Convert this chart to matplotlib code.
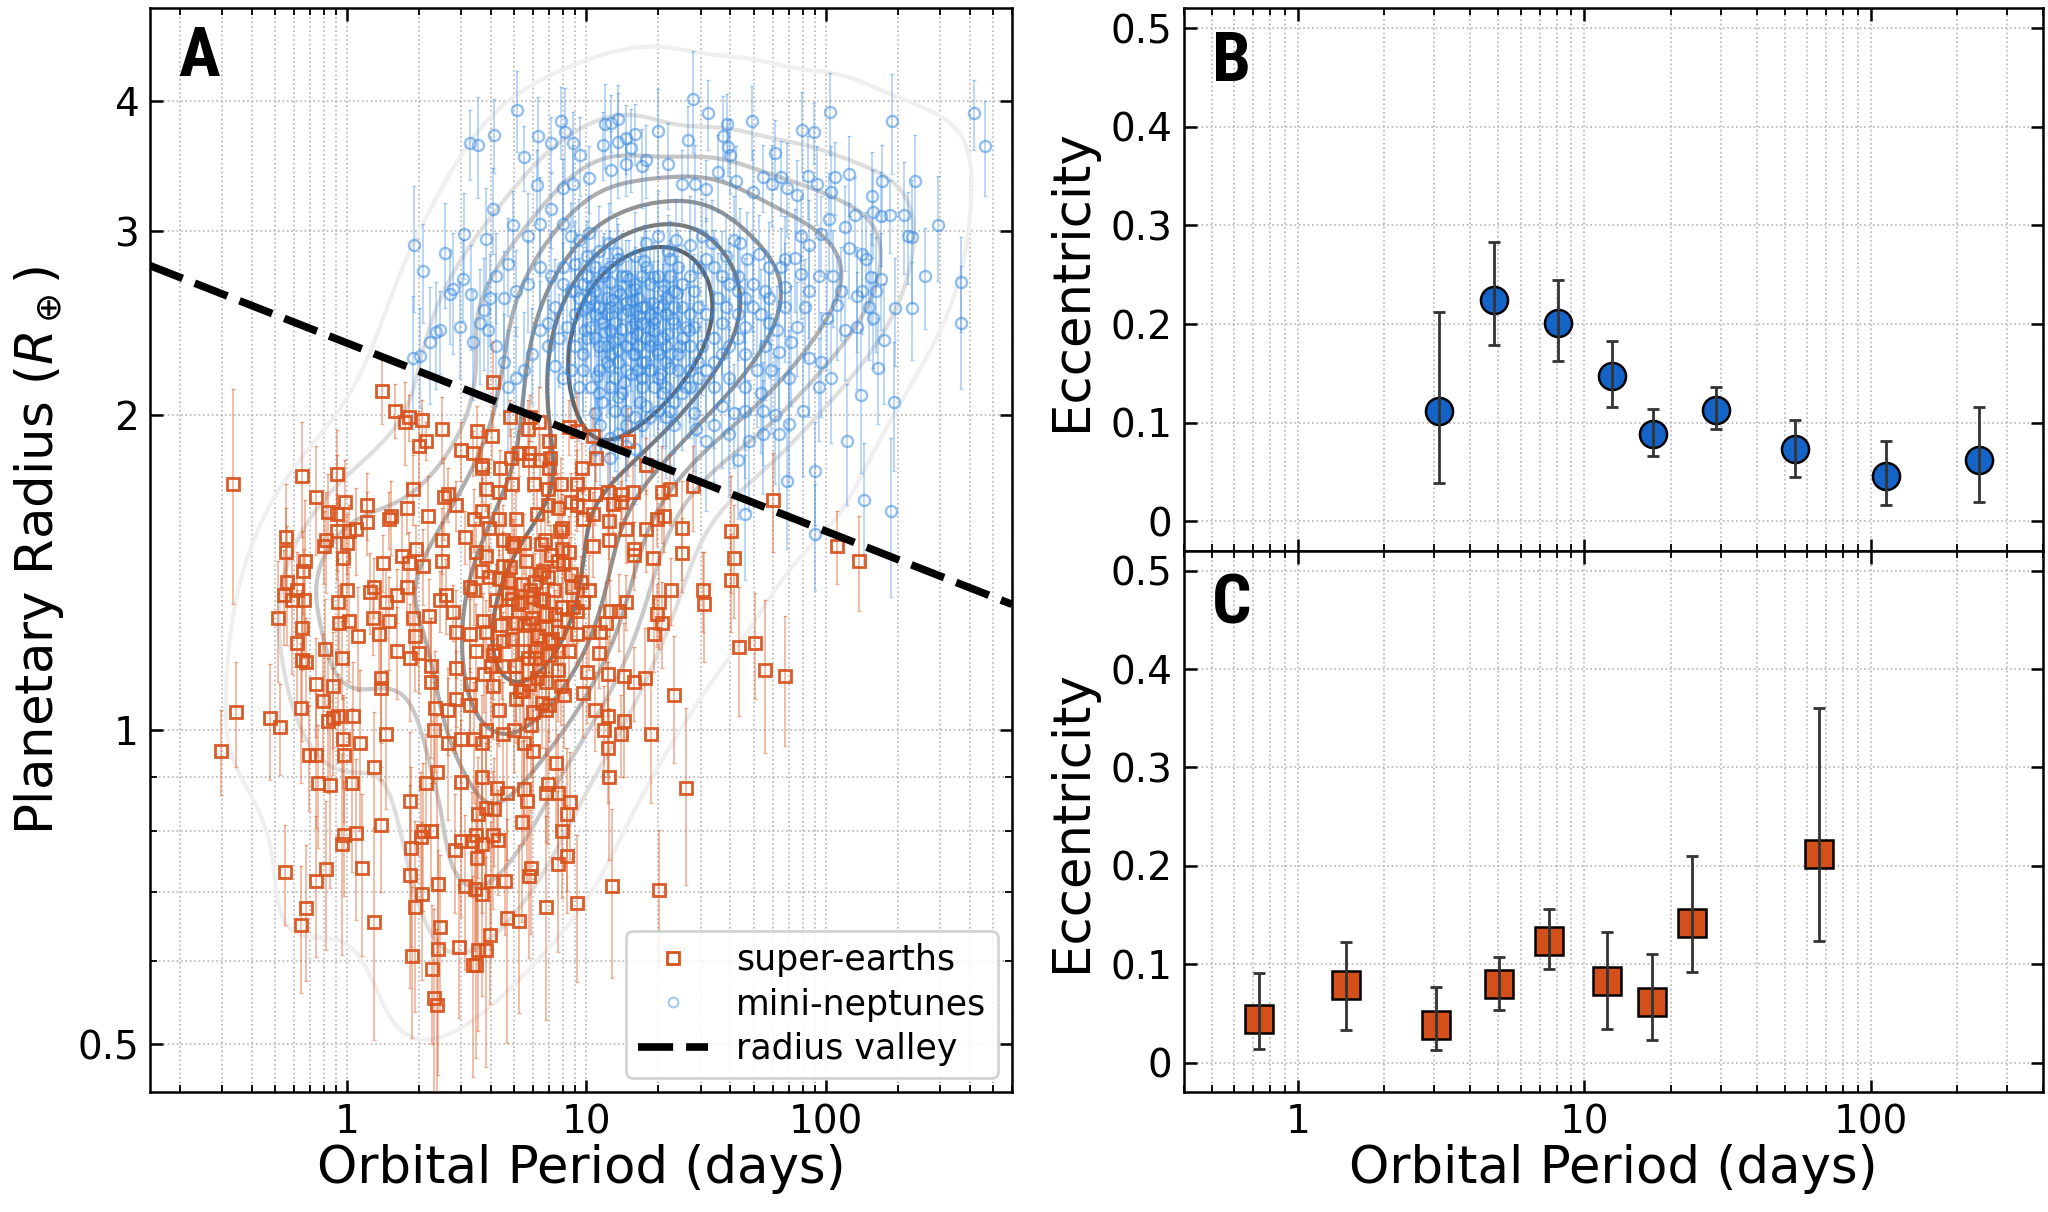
import numpy as np
import matplotlib
matplotlib.use("Agg")
import matplotlib.pyplot as plt
from matplotlib.lines import Line2D
from matplotlib.ticker import NullFormatter, LogLocator
import seaborn as sns

plt.rcParams['font.family'] = ['DejaVu Sans']
plt.rcParams['mathtext.fontset'] = 'dejavusans'

# ---------------- data ----------------
# super-earths: (orbital period [d], radius [R_earth], radius uncertainty)
super_earths = [
(1.40,2.11,.15),(1.58,2.02,.12),(1.81,1.99,.10),(1.74,1.97,.18),(2.06,1.98,.09),(2.50,1.94,.14),(3.49,1.93,.11),(4.07,2.15,.20),(4.78,1.99,.08),(5.69,1.94,.13),
(5.80,1.99,.10),(6.35,1.97,.16),(7.0,1.89,.09),(8.43,1.95,.12),(4.02,1.91,.10),(2.0,1.87,.15),(2.13,1.89,.08),(3.0,1.85,.12),(3.35,1.84,.09),(3.65,1.79,.14),
(3.68,1.78,.10),(4.36,1.78,.07),(4.84,1.82,.12),(5.25,1.84,.09),(5.73,1.84,.15),(5.73,1.81,.08),(6.42,1.81,.11),(7.06,1.82,.13),(6.96,1.78,.08),(9.15,1.93,.17),
(9.6,1.78,.10),(10.7,1.91,.12),(11.0,1.82,.09),(14.9,1.89,.14),(17.8,1.79,.11),(27.8,1.71,.16),(0.645,1.75,.22),(0.906,1.755,.18),(0.333,1.72,.40),(1.88,1.70,.13),
(2.65,1.68,.10),(2.53,1.67,.15),(2.86,1.64,.09),(3.68,1.62,.12),(3.82,1.70,.08),(4.32,1.69,.11),(4.88,1.72,.14),(6.05,1.72,.09),(6.88,1.70,.12),(7.86,1.72,.10),
(9.15,1.72,.13),(9.7,1.68,.08),(10.9,1.68,.11),(12.3,1.69,.15),(14.1,1.68,.09),(15.7,1.69,.12),(20.6,1.69,.18),(22.3,1.70,.13),(12.9,1.645,.10),(14.0,1.65,.08),
(8.6,1.65,.11),(9.15,1.64,.09),(7.62,1.63,.13),(6.88,1.64,.07),(0.74,1.67,.20),(0.98,1.65,.16),(1.21,1.64,.12),(0.835,1.615,.14),(0.906,1.61,.22),(1.50,1.59,.10),
(1.53,1.60,.13),(1.78,1.63,.09),(2.17,1.60,.15),(3.39,1.59,.11),(3.90,1.56,.08),(4.32,1.59,.12),(5.08,1.59,.10),(6.22,1.61,.09),(7.94,1.56,.12),(9.7,1.59,.10),
(10.7,1.61,.08),(12.4,1.585,.13),(14.6,1.555,.11),(17.8,1.555,.14),(19.8,1.59,.09),(21.0,1.60,.12),(25.2,1.56,.17),(40.2,1.55,.20),(1.21,1.58,.11),(1.09,1.555,.15),
(1.02,1.55,.09),(0.91,1.55,.13),(0.82,1.52,.17),(0.80,1.50,.12),(1.0,1.51,.10),(0.556,1.53,.19),(0.556,1.48,.15),(0.668,1.45,.21),(0.96,1.46,.12),(1.41,1.445,.09),
(1.70,1.465,.14),(1.81,1.445,.10),(2.08,1.435,.12),(1.95,1.49,.08),(2.50,1.52,.11),(2.50,1.45,.13),(3.12,1.53,.09),(3.46,1.48,.10),(3.79,1.465,.07),(4.5,1.52,.12),
(4.88,1.51,.08),(5.5,1.51,.10),(6.47,1.505,.09),(7.78,1.55,.11),(7.94,1.49,.08),(8.43,1.48,.12),(10.7,1.50,.10),(12.4,1.52,.13),(15.8,1.49,.09),(15.8,1.47,.11),
(19.0,1.46,.14),(25.0,1.475,.12),(41.4,1.46,.18),(40.2,1.39,.15),(30.6,1.36,.12),(30.9,1.32,.16),(22.6,1.36,.10),(20.2,1.325,.13),(19.8,1.29,.09),(20.6,1.265,.12),
(19.2,1.235,.10),(14.6,1.325,.08),(13.7,1.30,.11),(12.6,1.30,.09),(12.1,1.265,.12),(11.4,1.24,.07),(10.3,1.24,.10),(9.15,1.235,.08),(8.43,1.19,.11),(11.3,1.185,.09),
(10.1,1.135,.12),(12.3,1.13,.10),(14.3,1.125,.14),(15.8,1.11,.09),(17.6,1.12,.13),(23.2,1.08,.15),(43.5,1.20,.17),(50.7,1.21,.14),(55.6,1.14,.19),(67.5,1.125,.16),
(9.7,1.085,.10),(8.1,1.08,.12),(10.9,1.045,.09),(12.3,1.03,.13),(11.8,1.0,.10),(14.4,1.02,.12),(14.0,0.99,.09),(18.6,0.99,.14),(12.3,0.96,.11),(7.47,0.93,.13),
(12.4,0.90,.15),(26.0,0.88,.17),(0.563,1.385,.18),(0.546,1.345,.14),(0.59,1.33,.20),(0.616,1.36,.12),(0.663,1.33,.16),(0.655,1.42,.13),(0.515,1.28,.17),(0.65,1.25,.11),
(0.62,1.21,.15),(0.645,1.165,.19),(0.676,1.16,.12),(0.81,1.195,.14),(0.95,1.17,.10),(0.917,1.325,.13),(1.0,1.36,.09),(1.02,1.27,.16),(0.925,1.265,.11),(1.11,1.23,.14),
(1.28,1.28,.10),(1.36,1.235,.13),(1.30,1.37,.09),(1.25,1.355,.12),(1.46,1.325,.10),(1.62,1.345,.08),(1.50,1.27,.13),(1.88,1.28,.09),(2.19,1.285,.11),(1.78,1.37,.10),
(1.92,1.23,.14),(1.62,1.19,.12),(1.83,1.17,.15),(2.0,1.185,.10),(2.24,1.15,.13),(2.24,1.11,.17),(2.45,1.33,.09),(2.6,1.345,.11),(2.76,1.295,.08),(2.86,1.24,.12),
(3.25,1.235,.10),(3.46,1.19,.13),(3.82,1.24,.09),(4.07,1.18,.11),(4.0,1.15,.14),(4.47,1.215,.08),(4.88,1.335,.10),(5.33,1.325,.07),(6.1,1.385,.09),(6.42,1.335,.11),
(6.75,1.29,.08),(5.08,1.265,.10),(5.73,1.265,.09),(6.22,1.23,.12),(7.0,1.215,.08),(7.62,1.24,.10),(5.5,1.19,.11),(6.1,1.17,.09),(7.0,1.18,.13),(3.39,1.36,.10),
(3.68,1.42,.08),(3.25,1.37,.12),(4.32,1.395,.09),(4.69,1.385,.07),(4.5,1.435,.11),(6.6,1.42,.09),(7.62,1.45,.10),(8.6,1.41,.12),(9.5,1.385,.08),(10.3,1.36,.11),
(9.7,1.325,.09),(8.8,1.31,.10),(2.86,1.145,.14),(3.25,1.105,.11),(3.75,1.13,.09),(4.07,1.10,.12),(4.42,1.15,.08),(5.08,1.12,.10),(5.73,1.105,.09),(6.35,1.14,.11),
(6.75,1.11,.08),(7.62,1.14,.12),(5.08,1.07,.10),(5.42,1.09,.09),(5.97,1.04,.13),(6.75,1.045,.10),(7.0,1.055,.08),(5.85,1.01,.11),(5.5,0.97,.14),(5.97,0.955,.10),
(4.98,1.0,.09),(4.5,0.99,.12),(3.82,1.0,.10),(3.39,0.98,.13),(3.0,0.98,.09),(2.65,0.97,.15),(2.31,1.0,.11),(2.34,1.05,.14),(2.65,1.045,.10),(2.86,1.07,.12),
(3.25,1.055,.09),(3.65,0.97,.11),(4.32,1.045,.08),(1.45,0.99,.15),(1.30,0.92,.12),(1.13,0.97,.17),(0.975,0.945,.13),(0.96,0.98,.10),(1.05,0.89,.16),(0.755,0.89,.12),
(0.852,0.885,.18),(0.69,0.945,.11),(0.74,0.945,.14),(0.87,1.025,.12),(0.835,1.02,.15),(0.917,1.03,.10),(1.06,1.03,.13),(0.795,1.065,.17),(0.74,1.105,.12),(0.875,1.10,.14),
(0.64,1.05,.16),(0.475,1.025,.13),(0.525,1.005,.10),(0.345,1.04,.12),(0.297,0.955,.09),(1.39,1.12,.15),(1.38,1.095,.20),(2.37,0.91,.12),(2.13,0.89,.10),(1.83,0.854,.14),
(1.39,0.81,.11),(2.08,0.80,.13),(2.24,0.80,.09),(1.85,0.77,.15),(2.04,0.79,.12),(1.09,0.797,.14),(0.975,0.793,.10),(0.95,0.778,.17),(0.82,0.735,.12),(0.74,0.716,.11),
(0.55,0.73,.08),(1.15,0.737,.13),(0.676,0.675,.10),(0.64,0.65,.09),(1.30,0.655,.15),(1.83,0.726,.16),(2.06,0.696,.12),(2.39,0.712,.10),(1.92,0.677,.14),(2.44,0.648,.11),
(1.87,0.607,.10),(2.26,0.59,.09),(2.31,0.553,.12),(2.38,0.545,.10),(2.40,0.617,.15),(2.93,0.62,.09),(3.36,0.595,.13),(3.45,0.595,.11),(3.52,0.615,.10),(3.82,0.615,.14),
(3.95,0.636,.09),(4.68,0.661,.16),(5.25,0.656,.12),(6.75,0.677,.15),(9.15,0.683,.11),(12.8,0.709,.13),(20.2,0.702,.10),(3.12,0.709,.12),(3.42,0.704,.09),(3.68,0.696,.14),
(4.0,0.716,.10),(4.55,0.716,.08),(5.73,0.724,.12),(5.85,0.738,.10),(7.62,0.743,.13),(8.27,0.757,.09),(7.94,0.80,.11),(8.27,0.831,.13),(8.54,0.852,.10),(7.62,0.87,.12),
(6.75,0.87,.09),(6.88,0.888,.11),(5.62,0.854,.14),(5.5,0.878,.10),(4.68,0.87,.12),(4.23,0.88,.09),(3.82,0.842,.13),(4.12,0.84,.10),(3.52,0.831,.11),(5.4,0.815,.16),
(3.46,0.793,.10),(4.07,0.793,.12),(4.28,0.785,.09),(3.68,0.778,.11),(3.5,0.753,.13),(2.82,0.767,.10),(3.0,0.782,.12),(3.32,0.782,.09),(3.65,0.90,.11),(2.99,0.892,.13),
(60.0,1.66,.18),(138,1.45,.15),(111,1.50,.12),
(5.2,1.32,.08),(5.9,1.28,.09),(6.4,1.41,.10),(7.3,1.36,.08),(5.6,1.45,.09),(4.9,1.22,.07),(6.8,1.25,.10),(7.9,1.31,.09),(6.1,1.19,.08),(5.4,1.38,.11),
(4.6,1.30,.09),(7.1,1.47,.10),(6.6,1.33,.08),(5.8,1.36,.07),(8.3,1.27,.09),(4.4,1.26,.10),(6.3,1.23,.08),(7.6,1.19,.11),(5.1,1.15,.09),(6.9,1.40,.08),
(5.5,1.26,.10),(6.0,1.34,.09),(7.4,1.29,.07),(4.8,1.43,.10),(8.7,1.37,.09),(5.3,1.09,.08),(6.2,1.12,.10),(7.8,1.10,.09),(4.2,1.33,.11),(3.9,1.40,.10),
(5.0,1.50,.09),(6.7,1.52,.10),(8.0,1.44,.11),(9.1,1.30,.09),(4.1,1.19,.10),(3.7,1.27,.08),(5.7,1.17,.09),(6.5,1.06,.10),(7.2,1.22,.08),(4.7,1.35,.09),
]

# mini-neptunes: (orbital period [d], radius [R_earth], radius uncertainty)
mini_neptunes = [
(5.13,3.92,.35),(4.11,3.71,.30),(3.25,3.64,.28),(3.53,3.63,.40),(5.48,3.53,.25),(6.25,3.70,.33),(7.08,3.64,.22),(7.85,3.82,.30),(8.16,3.73,.38),(8.8,3.64,.26),
(9.4,3.55,.31),(11.7,3.63,.27),(12.0,3.80,.35),(12.7,3.81,.24),(13.5,3.84,.30),(13.5,3.65,.42),(14.7,3.68,.28),(15.3,3.60,.33),(15.9,3.72,.25),(17.1,3.46,.30),
(20.0,3.74,.36),(26.6,3.67,.28),(28.0,4.01,.45),(32.2,3.89,.30),(38.6,3.80,.26),(37.2,3.70,.34),(39.2,3.61,.22),(40,3.55,.29),(49.4,3.82,.31),(61.5,3.56,.27),
(79.3,3.75,.33),(89.3,3.73,.25),(104,3.90,.35),(189,3.82,.42),(418,3.89,.30),(462,3.62,.38),(6.2,3.32,.27),(8.0,3.30,.22),(8.75,3.33,.30),(10.3,3.37,.25),
(12.7,3.43,.31),(14.7,3.48,.24),(17.8,3.51,.28),(22,3.48,.33),(25.1,3.33,.26),(28.4,3.33,.30),(31.6,3.29,.22),(35.4,3.42,.29),(42.3,3.35,.27),(49.9,3.27,.32),
(54.9,3.38,.25),(59.9,3.33,.30),(65.2,3.38,.28),(69,3.30,.34),(75.9,3.25,.26),(84.1,3.39,.31),(91.8,3.33,.29),(105,3.27,.35),(109,3.38,.27),(125,3.40,.30),
(156,3.24,.33),(172,3.35,.28),(236,3.35,.36),(158,3.13,.30),(133,3.11,.27),(170,3.10,.32),(186,3.11,.25),(212,3.11,.38),(220,2.97,.30),(230,2.96,.40),
(296,3.04,.35),(259,2.72,.30),(369,2.68,.28),(369,2.45,.33),(194,2.53,.30),(230,2.53,.27),(175,2.36,.31),(165,2.22,.26),(193,2.06,.29),(140,2.09,.33),
(123,1.89,.25),(145,1.66,.22),(188,1.62,.28),(90,1.77,.20),(69,1.73,.24),(90,1.54,.18),(46.2,1.61,.22),(4.08,3.15,.30),(3.79,2.95,.35),(3.09,2.98,.28),
(2.56,2.86,.33),(1.91,2.91,.40),(2.07,2.75,.30),(2.7,2.61,.27),(2.77,2.64,.35),(3.05,2.70,.24),(3.29,2.61,.30),(2.95,2.43,.26),(2.36,2.40,.28),(2.45,2.41,.22),
(2.23,2.35,.30),(1.89,2.27,.33),(2.02,2.28,.25),(3.35,2.35,.28),(3.74,2.52,.31),(4.19,2.72,.27),(4.7,2.79,.30),(4.93,3.04,.24),(5.69,2.97,.29),(6.37,3.05,.33),
(7.14,3.15,.26),(7.95,3.05,.30),(8.63,2.97,.22),(9.32,2.94,.28),(10.3,2.99,.25),(11.3,2.87,.30),(12.4,2.92,.27),(13.6,2.82,.23),(15.9,2.84,.29),(17.8,2.92,.26),
(20.0,2.97,.31),(22.0,2.87,.24),(23.7,2.94,.28),(27.1,2.91,.33),(30.4,2.97,.25),(33.4,2.92,.29),(38.2,2.84,.27),(41.2,2.94,.30),(44,2.92,.24),(47.1,2.82,.31),
(52.8,2.85,.26),(58.0,2.77,.29),(65,2.77,.25),(74.4,2.83,.32),(78.7,2.97,.27),(85,2.91,.30),(95.3,2.98,.26),(103,3.08,.33),(120,3.03,.28),(125,2.89,.30),
(142,2.85,.25),(148,2.82,.31),(154,2.71,.27),(170,2.70,.29),(163,2.63,.33),(142,2.63,.24),(135,2.60,.30),(151,2.54,.28),(157,2.48,.26),(135,2.43,.31),
(120,2.41,.25),(111,2.55,.29),(101,2.48,.27),(93.5,2.72,.30),(78.7,2.73,.26),(81.8,2.54,.28),(75.9,2.43,.25),(71.7,2.35,.31),(63.8,2.30,.27),(70,2.17,.24),
(59,2.21,.29),(53.8,2.10,.26),(54.9,2.02,.23),(61.5,2.00,.28),(70,1.96,.25),(63.8,1.92,.30),(80.3,2.02,.27),(93.5,2.13,.24),(105,2.17,.29),(95.3,2.25,.26),
(85,2.27,.28),(54.9,1.92,.24),(48,1.89,.27),(42.8,1.81,.22),(39.6,1.92,.25),(34.1,1.955,.23),(31.6,1.89,.27),(28.7,1.94,.21),(28.2,2.01,.24),(36.8,2.04,.26),
(41.2,2.01,.23),(46.2,2.02,.28),(23.3,1.955,.22),(21.6,1.99,.25),(20.0,2.02,.21),(17.8,2.04,.24),(15.9,1.99,.20),(14.7,2.02,.23),(13.6,2.08,.26),(12.6,2.13,.22),
(11.6,2.06,.25),(10.9,2.01,.21),(11.4,1.955,.24),(12.6,1.90,.22),(13.6,1.92,.20),(14.7,1.87,.23),(15.9,1.855,.21),(12.6,1.82,.25),(10.9,1.855,.22),(9.32,2.13,.24),
(8.63,2.21,.26),(8.0,2.17,.23),(7.42,2.23,.27),(6.88,2.33,.25),(6.37,2.41,.28),(5.9,2.29,.24),(5.48,2.21,.30),(5.07,2.17,.26),(4.7,2.13,.28),(4.53,2.25,.25),
(4.19,2.33,.29),(3.88,2.41,.27),(3.60,2.45,.31),(3.96,2.59,.26),(4.53,2.59,.28),(5.07,2.63,.25),(5.69,2.67,.27),(6.37,2.77,.24),(7.14,2.72,.28),(8.0,2.77,.25),
(8.98,2.79,.27),(10.1,2.84,.23),(10.9,2.77,.26),(11.7,2.72,.24),(12.6,2.68,.27),(13.6,2.63,.22),(14.7,2.56,.25),(15.9,2.52,.23),(17.1,2.45,.26),(18.5,2.50,.24),
(20.0,2.54,.27),(21.6,2.59,.23),(23.3,2.63,.26),(25.1,2.67,.24),(27.1,2.72,.28),(29.3,2.77,.25),(31.6,2.82,.27),(34.1,2.77,.24),(36.8,2.72,.28),(39.6,2.67,.25),
(42.8,2.63,.27),(46.2,2.59,.24),(49.9,2.54,.29),(53.8,2.50,.26),(58.0,2.45,.28),(62.6,2.41,.25),(46.2,2.43,.27),(42.8,2.37,.24),(39.6,2.33,.26),(36.8,2.29,.23),
(34.1,2.25,.27),(31.6,2.21,.24),(29.3,2.17,.26),(27.1,2.13,.23),(25.1,2.10,.25),(23.3,2.06,.22),(21.6,2.13,.26),(20.0,2.17,.23),(18.5,2.21,.25),(17.1,2.25,.22),
(15.9,2.29,.26),(14.7,2.33,.24),(13.6,2.37,.27),(12.6,2.41,.23),(11.7,2.45,.25),(10.9,2.50,.22),(10.1,2.54,.26),(9.32,2.59,.24),(8.63,2.63,.27),(8.0,2.67,.25),
(7.42,2.54,.28),(6.88,2.45,.26),(8.32,2.43,.24),(10.1,2.37,.27),(12.2,2.33,.23),(14.7,2.21,.25),(17.8,2.37,.22),(21.6,2.33,.26),(26.1,2.43,.24),(31.6,2.50,.27),
(38.2,2.54,.25),(46.2,2.29,.28),(55.9,2.33,.26),(67.7,2.54,.29),(67.7,2.65,.27),(55.9,2.63,.25),(27.1,2.33,.23),(34.1,2.37,.26),(23.3,2.45,.24),(20.0,2.72,.27),
(15.9,2.67,.23),(12.6,2.54,.25),(10.9,2.63,.22),(8.98,2.50,.26),(7.71,2.37,.24),(9.7,2.29,.27),(11.3,2.21,.23),(13.6,2.25,.25),(17.1,2.13,.22),(21.6,2.25,.26),
(27.1,2.21,.24),(34.1,2.13,.27),(39.6,2.17,.25),(46.2,2.13,.28),(51.8,2.21,.26),(42.8,2.50,.24),(35.4,2.59,.27),(29.3,2.54,.23),(24.1,2.29,.25),(19.2,2.41,.22),
(15.3,2.43,.26),(12.2,2.59,.24),(14.1,2.72,.27),(17.8,2.77,.23),(22.4,2.82,.25),(28.2,2.63,.22),(36.8,2.45,.26),(42.8,2.72,.24),(49.9,2.67,.27),(58.0,2.59,.25),
(67.7,2.82,.28),(85,2.63,.26),(107,2.72,.29),(116,2.63,.27),
(8.98,2.63,.24),(9.7,2.52,.22),(10.5,2.43,.25),(11.3,2.33,.23),(12.2,2.25,.26),(13.2,2.17,.22),(14.1,2.10,.24),(15.3,2.63,.23),(16.5,2.59,.25),(17.8,2.54,.22),
(19.2,2.45,.26),(20.8,2.37,.24),(22.4,2.29,.23),(24.1,2.21,.25),(26.1,2.13,.22),(14.1,2.50,.24),(15.3,2.37,.26),(16.5,2.33,.23),(17.8,2.25,.25),(19.2,2.13,.22),
(20.8,2.10,.24),(22.4,2.02,.23),(13.2,2.45,.25),(12.2,2.50,.22),(11.3,2.54,.26),(10.5,2.59,.24),(9.7,2.67,.23),(8.98,2.33,.25),(9.7,2.21,.22),(10.5,2.13,.24),
(11.3,2.10,.23),(13.2,2.02,.25),(14.7,1.955,.22),(17.1,1.955,.24),(18.5,1.99,.23),(15.3,2.19,.25),(16.5,2.21,.22),(12.6,2.29,.24),(10.9,2.37,.23),(13.6,2.54,.25),
(14.7,2.72,.22),(17.1,2.72,.24),(18.5,2.67,.23),(21.6,2.50,.25),(23.3,2.54,.22),(25.1,2.54,.24),(27.1,2.50,.23),(25.1,2.37,.25),(28.2,2.43,.22),(30.4,2.33,.24),
(29.3,2.25,.23),(20.0,2.29,.25),(18.5,2.33,.22),(15.9,2.45,.24),(17.1,2.54,.23),(20.8,2.63,.25),(22.4,2.72,.22),(24.1,2.77,.24),(12.6,2.77,.23),(10.1,2.72,.25),
(11.5,2.48,.22),(13.8,2.61,.24),(16.2,2.39,.23),(18.9,2.56,.25),(12.4,2.23,.22),(15.1,2.70,.24),(19.7,2.31,.23),(22.9,2.47,.25),(10.6,2.66,.22),(14.4,2.15,.24),
(17.4,2.81,.23),(21.2,2.66,.25),(24.6,2.33,.22),(13.1,2.35,.24),(16.8,2.06,.23),(11.9,2.74,.25),(20.4,2.19,.22),(18.1,2.43,.24),(14.9,2.52,.23),(12.8,2.58,.25),
(23.8,2.62,.22),(26.9,2.41,.24),(9.9,2.41,.23),(15.7,2.29,.25),(19.1,2.71,.22),(17.0,2.17,.24),(13.4,2.86,.23),(21.8,2.39,.25),(11.1,2.18,.22),(16.0,2.64,.24),
(14.0,2.42,.22),(18.4,2.36,.23),(12.0,2.40,.25),(20.9,2.55,.24),(16.6,2.49,.22),(13.5,2.31,.23),(15.5,2.58,.24),(19.4,2.48,.25),(22.3,2.22,.23),(10.8,2.55,.22),
]

# radius valley: log10(R) = slope * log10(P) + intercept
valley_slope = -0.09
valley_intercept = 0.37

# Panel B: mini-neptune eccentricity in period bins
mn_bin_period = [3.1, 4.86, 8.12, 12.5, 17.4, 28.8, 54.3, 112.7, 239]
mn_ecc = [0.112, 0.224, 0.201, 0.147, 0.089, 0.113, 0.0735, 0.046, 0.062]
mn_ecc_hi = [0.212, 0.283, 0.2445, 0.183, 0.114, 0.136, 0.103, 0.081, 0.116]
mn_ecc_lo = [0.0385, 0.1785, 0.163, 0.1164, 0.0664, 0.0932, 0.0448, 0.0165, 0.020]

# Panel C: super-earth eccentricity in period bins
se_bin_period = [0.73, 1.47, 3.04, 5.03, 7.55, 12.0, 17.2, 23.8, 66]
se_ecc = [0.0445, 0.0785, 0.0384, 0.0794, 0.1235, 0.0825, 0.0615, 0.1418, 0.2116]
se_ecc_hi = [0.0912, 0.122, 0.0768, 0.107, 0.156, 0.133, 0.1108, 0.2099, 0.3608]
se_ecc_lo = [0.0135, 0.0327, 0.0122, 0.0537, 0.0951, 0.034, 0.0231, 0.0916, 0.1235]

radius_ticks = [0.5, 1, 2, 3, 4]
radius_ticklabels = ['0.5', '1', '2', '3', '4']
period_ticks = [1, 10, 100]
period_ticklabels = ['1', '10', '100']
ecc_ticks = [0, 0.1, 0.2, 0.3, 0.4, 0.5]
ecc_ticklabels = ['0', '0.1', '0.2', '0.3', '0.4', '0.5']

# ---------------- styling ----------------
ORANGE = '#d9531c'
BLUE = '#3a8ae0'
BLUE_FILL = '#1464c8'
ORANGE_FILL = '#d4501a'
CONTOUR_COLORS = ['#efefef', '#dedede', '#c8c8c8', '#adadad', '#929292',
                  '#7a7a7a', '#626262', '#3e4a58']
GRID = dict(ls=':', color='#b5b5b5', lw=1.2)
LABEL_FS = 37
TICK_FS = 28
PANEL_FONT = ['Roboto Condensed', 'DejaVu Sans Condensed', 'Liberation Sans Narrow', 'DejaVu Sans']

se_P, se_R, se_E = map(np.array, zip(*super_earths))
mn_P, mn_R, mn_E = map(np.array, zip(*mini_neptunes))

fig = plt.figure(figsize=(20.48, 12.12), dpi=100)
axA = fig.add_axes([0.0732, 0.099, 0.4209, 0.894])
axB = fig.add_axes([0.578, 0.5454, 0.4197, 0.4476])
axC = fig.add_axes([0.578, 0.099, 0.4197, 0.4464], sharex=axB)


def style_axis(ax):
    ax.set_axisbelow(True)
    ax.grid(True, which='both', **GRID)
    ax.tick_params(which='both', direction='in', top=True, right=True,
                   labelsize=TICK_FS, pad=8)
    ax.tick_params(which='major', length=9, width=1.8)
    ax.tick_params(which='minor', length=5, width=1.3)
    for s in ax.spines.values():
        s.set_linewidth(1.8)


def panel_label(ax, text, y):
    ax.text(0.033, y, text, transform=ax.transAxes, fontsize=50,
            fontweight='heavy', fontstretch='condensed', va='top', ha='left',
            family=PANEL_FONT, zorder=11)


# ---------------- Panel A ----------------
allP = np.concatenate([se_P, mn_P])
allR = np.concatenate([se_R, mn_R])
sns.kdeplot(x=allP, y=allR, log_scale=True, levels=len(CONTOUR_COLORS), thresh=0.05,
            colors=CONTOUR_COLORS, linewidths=3, ax=axA, zorder=1)

axA.errorbar(mn_P, mn_R, yerr=mn_E, fmt='none', ecolor=BLUE, alpha=0.4,
             elinewidth=1.2, capsize=1.5, zorder=2)
axA.plot(mn_P, mn_R, ls='none', marker='o', mfc='none', mec=BLUE, mew=1.7,
         ms=8, alpha=0.55, zorder=2.5)
axA.errorbar(se_P, se_R, yerr=se_E, fmt='none', ecolor=ORANGE, alpha=0.45,
             elinewidth=1.2, capsize=1.5, zorder=3)
axA.plot(se_P, se_R, ls='none', marker='s', mfc='none', mec=ORANGE, mew=2.0,
         ms=8.6, alpha=0.95, zorder=3.5)

valley_style = dict(color='k', lw=5.5, ls=(0, (4.6, 1.7)))
axA.axline((1, 10 ** valley_intercept), (10, 10 ** (valley_intercept + valley_slope)),
           zorder=5, **valley_style)

axA.set_xscale('log')
axA.set_yscale('log')
axA.set_xlim(0.15, 600)
axA.set_ylim(0.45, 4.9)
axA.set_xticks(period_ticks)
axA.set_xticklabels(period_ticklabels)
axA.xaxis.set_minor_locator(LogLocator(base=10, subs=np.arange(2, 10)))
axA.xaxis.set_minor_formatter(NullFormatter())
axA.set_yticks(radius_ticks)
axA.set_yticklabels(radius_ticklabels)
axA.set_yticks([0.6, 0.7, 0.8, 0.9], minor=True)
axA.yaxis.set_minor_formatter(NullFormatter())
style_axis(axA)
axA.set_xlabel('Orbital Period (days)', fontsize=LABEL_FS, labelpad=2)
axA.set_ylabel(r'Planetary Radius ($R_\oplus$)', fontsize=LABEL_FS, labelpad=8)

handles = [
    Line2D([], [], ls='none', marker='s', mfc='none', mec=ORANGE, mew=2.0, ms=8.6),
    Line2D([], [], ls='none', marker='o', mfc='none', mec=BLUE, mew=1.5, ms=7, alpha=0.45),
    Line2D([], [], **valley_style),
]
leg = axA.legend(handles, ['super-earths', 'mini-neptunes', 'radius valley'],
                 loc='lower right', fontsize=25, borderaxespad=0.4,
                 labelspacing=0.3, borderpad=0.35, framealpha=0.85)
leg.get_frame().set_edgecolor('#cccccc')
leg.get_frame().set_linewidth(2)
leg.set_zorder(10)

panel_label(axA, 'A', 0.985)

# ---------------- Panels B and C ----------------
for ax, P, e, lo, hi, mk, fc, lab in [
        (axB, mn_bin_period, mn_ecc, mn_ecc_lo, mn_ecc_hi, 'o', BLUE_FILL, 'B'),
        (axC, se_bin_period, se_ecc, se_ecc_lo, se_ecc_hi, 's', ORANGE_FILL, 'C')]:
    e = np.array(e)
    yerr = [e - np.array(lo), np.array(hi) - e]
    ax.plot(P, e, ls='none', marker=mk, ms=19.5, mfc=fc, mec='black', mew=1.8, zorder=3)
    ax.errorbar(P, e, yerr=yerr, fmt='none', ecolor='#333333', elinewidth=2,
                capsize=4, capthick=2, zorder=4)
    ax.set_xscale('log')
    ax.set_xlim(0.4, 400)
    ax.set_ylim(-0.03, 0.52)
    ax.set_yticks(ecc_ticks)
    ax.set_yticklabels(ecc_ticklabels)
    ax.set_xticks(period_ticks)
    ax.set_xticklabels(period_ticklabels)
    ax.xaxis.set_minor_locator(LogLocator(base=10, subs=np.arange(2, 10)))
    ax.xaxis.set_minor_formatter(NullFormatter())
    style_axis(ax)
    ax.set_ylabel('Eccentricity', fontsize=LABEL_FS, labelpad=10)
    panel_label(ax, lab, 0.96)

axB.tick_params(labelbottom=False)
axC.set_xlabel('Orbital Period (days)', fontsize=LABEL_FS, labelpad=2)

fig.savefig('out.png', dpi=100)
